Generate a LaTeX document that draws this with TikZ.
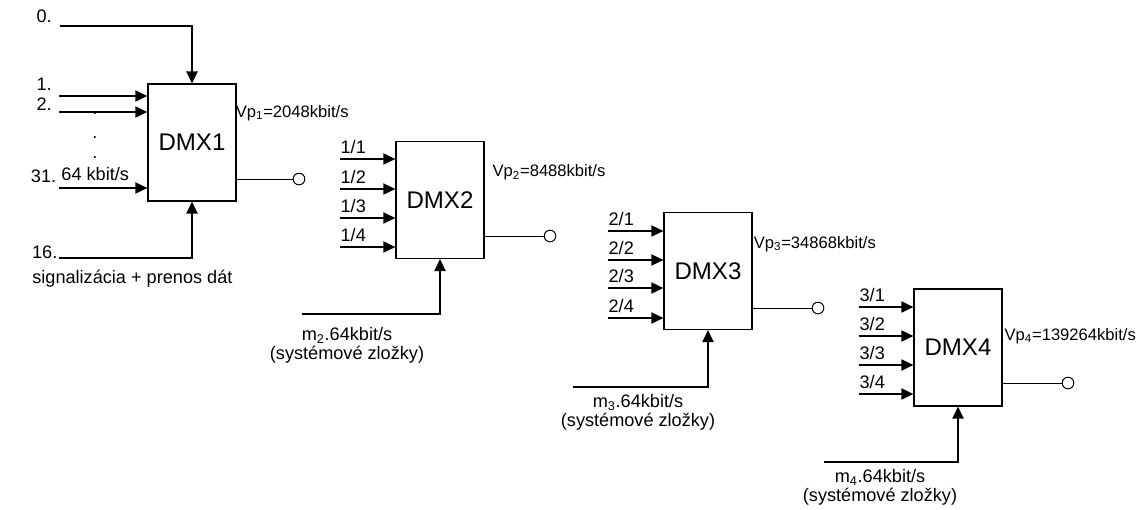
\documentclass[tikz,border=0pt]{standalone}
\usepackage{fontspec}
\setmainfont{Liberation Sans}
\usetikzlibrary{arrows.meta,positioning}

\begin{document}
\begin{tikzpicture}[
    >={Triangle[length=3mm,width=2.8mm]},
    line width=0.9pt,
    font=\fontsize{12.9}{12.5}\selectfont,
    dmx/.style={
        rectangle, draw,
        inner sep=0pt,
        minimum width=22mm,
        minimum height=29.2mm,
        font=\fontsize{17.1}{20}\selectfont
    },
    port/.style={
        circle, draw,
        inner sep=0pt,
        minimum size=2.9mm,
        line width=0.7pt
    },
    chlabel/.style={
        inner sep=0pt,
        anchor=base west
    },
    numlabel/.style={
        inner sep=0pt,
        anchor=base east
    },
    ratelabel/.style={
        inner sep=0pt,
        anchor=base west,
        font=\fontsize{11.8}{14}\selectfont
    },
    syslabel/.style={
        inner sep=0pt,
        anchor=north,
        align=center,
        font=\fontsize{12.9}{13.6}\selectfont
    },
    dotmark/.style={
        inner sep=0pt,
        anchor=base
    },
    outwire/.style={
        line width=0.7pt
    }
]

\useasboundingbox (0,0) rectangle (28.4,-12.725);


% DMX1 -------------------------------------------------
\node[dmx] (d1) at (4.80,-3.5625) {DMX1};

\coordinate (a10)  at (1.50,-0.65);
\coordinate (a11)  at (1.475,-2.40);
\coordinate (a12)  at (1.475,-2.80);
\coordinate (a131) at (1.475,-4.70);
\coordinate (a116) at (1.475,-6.45);

\draw[->] (a10) -| (d1.north);
\draw[->] (a11) -- (a11 -| d1.west);
\draw[->] (a12) -- (a12 -| d1.west);
\draw[->] (a131) -- (a131 -| d1.west);
\draw[->] (a116) -| (d1.south);

\node[numlabel] (l10)  at (1.31,-0.55) {0.};
\node[numlabel] (l11)  at (1.31,-2.25) {1.};
\node[numlabel] (l12)  at (1.31,-2.75) {2.};
\node[numlabel] (l131) at (1.42,-4.55) {31.};
\node[numlabel] (l116) at (1.45,-6.45) {16.};

\node[dotmark] (g1) at (2.375,-2.86) {.};
\node[dotmark] (g2) at (2.375,-3.45) {.};
\node[dotmark] (g3) at (2.375,-3.95) {.};

\node[chlabel] (r64) at (1.52,-4.50) {64 kbit/s};
\node[inner sep=0pt,anchor=base] (sig) at (3.31,-7.08) {signalizácia + prenos dát};

\node[port] (o1) at (7.475,-4.475) {};
\draw[outwire] (o1 -| d1.east) -- (o1);
\node[ratelabel] (v1) at (5.88,-2.93) {Vp\textsubscript{1}=2048kbit/s};


% DMX2 -------------------------------------------------
\node[dmx] (d2) at (11.00,-5.00) {DMX2};

\coordinate (a21) at (8.50,-3.975);
\coordinate (a22) at (8.50,-4.725);
\coordinate (a23) at (8.50,-5.45);
\coordinate (a24) at (8.50,-6.175);
\coordinate (m2)  at (7.55,-7.85);

\draw[->] (a21) -- (a21 -| d2.west);
\draw[->] (a22) -- (a22 -| d2.west);
\draw[->] (a23) -- (a23 -| d2.west);
\draw[->] (a24) -- (a24 -| d2.west);
\draw[->] (m2) -| (d2.south);

\node[chlabel] (l21) at (8.50,-3.825) {1/1};
\node[chlabel] (l22) at (8.50,-4.575) {1/2};
\node[chlabel] (l23) at (8.50,-5.30) {1/3};
\node[chlabel] (l24) at (8.50,-6.025) {1/4};

\node[syslabel] (s2) at (8.675,-8.16) {m\textsubscript{2}.64kbit/s\\(systémové zložky)};

\node[port] (o2) at (13.75,-5.90) {};
\draw[outwire] (o2 -| d2.east) -- (o2);
\node[ratelabel] (v2) at (12.30,-4.42) {Vp\textsubscript{2}=8488kbit/s};


% DMX3 -------------------------------------------------
\node[dmx] (d3) at (17.70,-6.775) {DMX3};

\coordinate (a31) at (15.20,-5.775);
\coordinate (a32) at (15.20,-6.50);
\coordinate (a33) at (15.20,-7.20);
\coordinate (a34) at (15.20,-7.95);
\coordinate (m3)  at (14.325,-9.675);

\draw[->] (a31) -- (a31 -| d3.west);
\draw[->] (a32) -- (a32 -| d3.west);
\draw[->] (a33) -- (a33 -| d3.west);
\draw[->] (a34) -- (a34 -| d3.west);
\draw[->] (m3) -| (d3.south);

\node[chlabel] (l31) at (15.20,-5.625) {2/1};
\node[chlabel] (l32) at (15.20,-6.35) {2/2};
\node[chlabel] (l33) at (15.20,-7.05) {2/3};
\node[chlabel] (l34) at (15.20,-7.80) {2/4};

\node[syslabel] (s3) at (15.95,-9.84) {m\textsubscript{3}.64kbit/s\\(systémové zložky)};

\node[port] (o3) at (20.45,-7.70) {};
\draw[outwire] (o3 -| d3.east) -- (o3);
\node[ratelabel] (v3) at (18.83,-6.20) {Vp\textsubscript{3}=34868kbit/s};


% DMX4 -------------------------------------------------
\node[dmx] (d4) at (23.95,-8.6875) {DMX4};

\coordinate (a41) at (21.475,-7.675);
\coordinate (a42) at (21.475,-8.40);
\coordinate (a43) at (21.475,-9.125);
\coordinate (a44) at (21.475,-9.85);
\coordinate (m4)  at (20.60,-11.55);

\draw[->] (a41) -- (a41 -| d4.west);
\draw[->] (a42) -- (a42 -| d4.west);
\draw[->] (a43) -- (a43 -| d4.west);
\draw[->] (a44) -- (a44 -| d4.west);
\draw[->] (m4) -| (d4.south);

\node[chlabel] (l41) at (21.475,-7.525) {3/1};
\node[chlabel] (l42) at (21.475,-8.25) {3/2};
\node[chlabel] (l43) at (21.475,-8.975) {3/3};
\node[chlabel] (l44) at (21.475,-9.70) {3/4};

\node[syslabel] (s4) at (22.00,-11.71) {m\textsubscript{4}.64kbit/s\\(systémové zložky)};

\node[port] (o4) at (26.70,-9.575) {};
\draw[outwire] (o4 -| d4.east) -- (o4);
\node[ratelabel] (v4) at (25.10,-8.50) {Vp\textsubscript{4}=139264kbit/s};

\end{tikzpicture}
\end{document}
